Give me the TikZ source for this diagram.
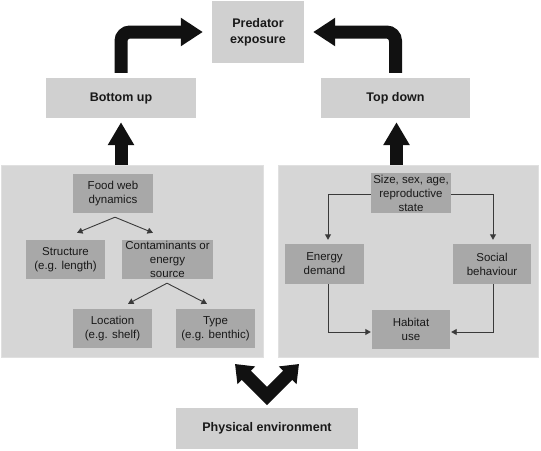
\documentclass[tikz,border=0pt]{standalone}
\usepackage{fontspec}
\setmainfont{Liberation Sans}
\usetikzlibrary{arrows.meta}
\definecolor{boxgray}{HTML}{D0D0D0}
\definecolor{panelgray}{HTML}{D6D6D6}
\definecolor{innergray}{HTML}{A8A8A8}
\definecolor{arrowblack}{HTML}{111111}
\definecolor{thinline}{HTML}{3A3A3A}
\begin{document}
\begin{tikzpicture}[x=1pt,y=-1pt,
  outerbox/.style={fill=boxgray,draw=none,inner sep=0pt,align=center,font=\fontsize{12.5}{16}\selectfont\bfseries,text=black!90},
  panelbox/.style={fill=panelgray,draw=black!12,line width=0.6pt,inner sep=0pt},
  innerbox/.style={fill=innergray,draw=none,inner sep=0pt,align=center,font=\fontsize{11.5}{14}\selectfont,text=black!90},
  bigarrow/.style={draw=arrowblack,line width=13pt,-{Triangle[width=27pt,length=22pt]}},
  thinarrow/.style={draw=thinline,line width=0.9pt,-{Triangle[width=6pt,length=5.5pt]}}
]
\useasboundingbox (0,0) rectangle (541,450);
% top boxes
\node[outerbox,minimum width=92pt,minimum height=62pt] (pe) at (258,32) {Predator\\exposure};
\node[outerbox,minimum width=150pt,minimum height=40pt] (bu) at (121,98) {Bottom up};
\node[outerbox,minimum width=149pt,minimum height=40pt] (td) at (395.5,98) {Top down};
% panels
\node[panelbox,minimum width=262pt,minimum height=192pt] (lp) at (132,261) {};
\node[panelbox,minimum width=260pt,minimum height=192pt] (rp) at (408,261) {};
% left panel
\node[innerbox,minimum width=80pt,minimum height=39pt] (fw) at (113,193.5) {Food web\\dynamics};
\node[innerbox,minimum width=79pt,minimum height=39pt] (st) at (65.5,259.5) {Structure\\(e.g. length)};
\node[innerbox,minimum width=91pt,minimum height=39pt] (co) at (167.5,259.5) {Contaminants or\\energy\\source};
\node[innerbox,minimum width=79pt,minimum height=39pt] (lo) at (112.5,328.5) {Location\\(e.g. shelf)};
\node[innerbox,minimum width=79pt,minimum height=39pt] (ty) at (215.5,328.5) {Type\\(e.g. benthic)};
% right panel
\node[innerbox,minimum width=80pt,minimum height=40pt] (sz) at (411,193) {Size, sex, age,\\reproductive\\state};
\node[innerbox,minimum width=79pt,minimum height=40pt] (en) at (324.5,264) {Energy\\demand};
\node[innerbox,minimum width=78pt,minimum height=40pt] (so) at (492,264) {Social\\behaviour};
\node[innerbox,minimum width=78pt,minimum height=39pt] (ha) at (411,329.5) {Habitat\\use};
% bottom box
\node[outerbox,minimum width=182pt,minimum height=41pt] (ph) at (267,428.5) {Physical environment};
% big bent arrows
\draw[bigarrow,rounded corners=9pt,shorten <=5pt,shorten >=9pt] (bu.north) |- (pe.west);
\draw[bigarrow,rounded corners=9pt,shorten <=5pt,shorten >=9pt] (td.north) |- (pe.east);
% up arrows
\draw[bigarrow,-{Triangle[width=25pt,length=23pt]},shorten >=4pt] (bu.south |- lp.north) -- (bu.south);
\draw[bigarrow,-{Triangle[width=25pt,length=23pt]},shorten >=4pt] ([xshift=1pt]td.south |- rp.north) -- ([xshift=1pt]td.south);
% double V arrow
\coordinate (vl) at (235,364);
\coordinate (vb) at (267,396);
\coordinate (vr) at (299,364);
\draw[draw=arrowblack,line width=13pt,miter limit=10,{Triangle[width=24pt,length=16pt]}-{Triangle[width=24pt,length=16pt]}] (vl) -- (vb) -- (vr);
% left panel arrows
\draw[thinarrow] ([xshift=2pt,yshift=-4pt]fw.south) -- ([xshift=11.5pt,yshift=7pt]st.north);
\draw[thinarrow] ([xshift=2pt,yshift=-4pt]fw.south) -- ([xshift=-14.5pt,yshift=7pt]co.north);
\draw[thinarrow] ([xshift=-0.5pt,yshift=-4pt]co.south) -- ([xshift=15.5pt,yshift=5pt]lo.north);
\draw[thinarrow] ([xshift=-0.5pt,yshift=-4pt]co.south) -- ([xshift=-8.5pt,yshift=5pt]ty.north);
% right panel arrows
\draw[thinarrow] ([yshift=-1pt]sz.west) -| ([xshift=3.5pt,yshift=4pt]en.north);
\draw[thinarrow] ([yshift=-1pt]sz.east) -| ([xshift=1pt,yshift=4pt]so.north);
\draw[thinarrow] ([xshift=3.5pt]en.south) |- ([xshift=-1pt,yshift=-2.5pt]ha.west);
\draw[thinarrow] ([xshift=1pt]so.south) |- ([xshift=1pt,yshift=-2.5pt]ha.east);
\end{tikzpicture}
\end{document}
